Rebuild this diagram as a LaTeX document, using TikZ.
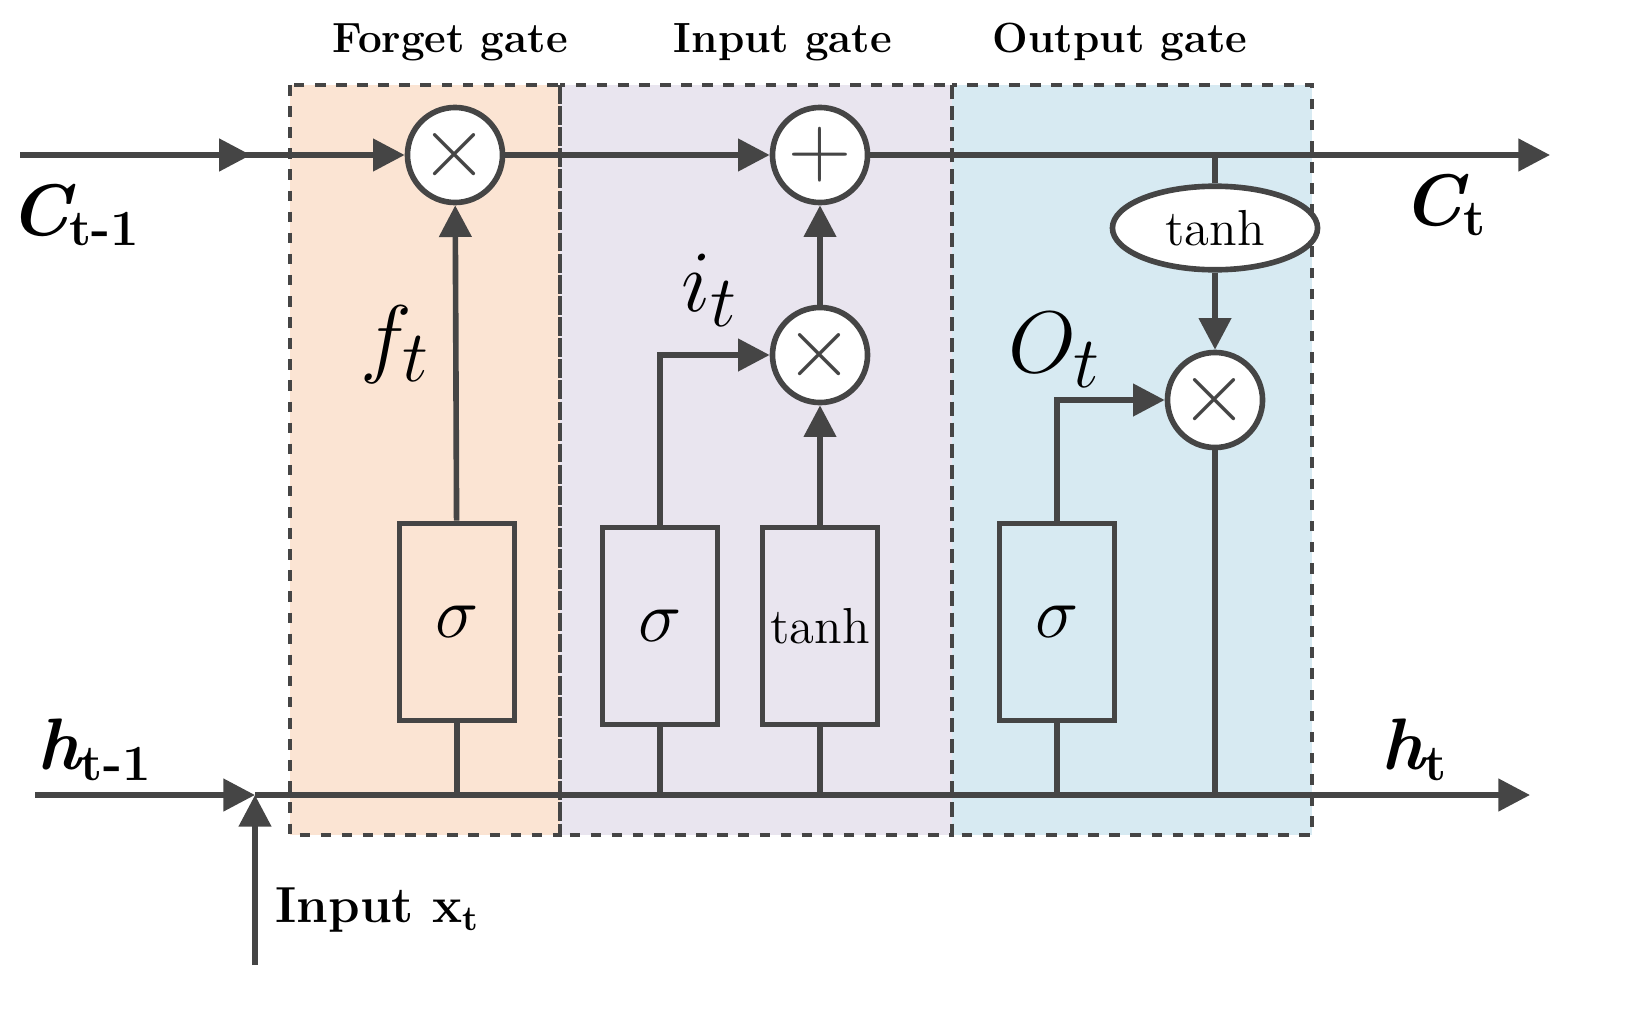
\documentclass[tikz,border=0pt]{standalone}
\usetikzlibrary{arrows.meta,shapes.geometric,decorations.markings}
\definecolor{ln}{HTML}{454545}
\definecolor{fg}{HTML}{FBE4D3}
\definecolor{ig}{HTML}{E9E5EF}
\definecolor{og}{HTML}{D7EAF2}
\begin{document}
\begin{tikzpicture}[x=0.01cm,y=-0.01cm,
  line width=1.6pt, ln,
  arr/.style={-{Triangle[length=9pt,width=9pt]}},
  gate/.style={draw=ln,dashed,line width=1.3pt},
  op/.style={circle,draw=ln,fill=white,minimum size=0.95cm,inner sep=0pt,font=\Huge},
  box/.style={draw=ln,fill=none,minimum width=1.15cm,minimum height=1.97cm,inner sep=0pt,font=\huge,text=black},
  ttl/.style={font=\bfseries\large,text=black},
  lab/.style={font=\huge\bfseries\itshape,text=black},
  midarr/.style={postaction={decorate},decoration={markings,mark=at position #1 with {\arrow{Triangle[length=9pt,width=9pt]}}}}]
\useasboundingbox (0,0) rectangle (1631,1027);
% gate regions
\fill[fg] (290,85) rectangle (560,835);
\fill[ig] (560,85) rectangle (952,835);
\fill[og] (952,85) rectangle (1312,835);
\draw[gate] (290,85) rectangle (560,835);
\draw[gate] (560,85) rectangle (952,835);
\draw[gate] (952,85) rectangle (1312,835);
\node[ttl] at (450,42) {Forget gate};
\node[ttl] at (783,42) {Input gate};
\node[ttl] at (1120,42) {Output gate};
% operators
\node[op] (fx) at (455,155) {$\times$};
\node[op] (pl) at (820,155) {$+$};
\node[op] (ix) at (820,355) {$\times$};
\node[op] (ox) at (1215,400) {$\times$};
\node[draw=ln,fill=white,ellipse,minimum width=2.05cm,minimum height=0.8cm,font=\Large,text=black] (th) at (1215,228) {tanh};
% layer boxes
\node[box] (fs) at (457,622) {$\sigma$};
\node[box] (is) at (660,626) {$\sigma$};
\node[box,font=\Large] (it) at (820,626) {tanh};
\node[box] (os) at (1057,622) {$\sigma$};
% coordinates
\coordinate (cin) at (20,155);
\coordinate (cout) at (1550,155);
\coordinate (cth) at (1215,155);
\coordinate (hin) at (35,795);
\coordinate (hout) at (1530,795);
\coordinate (xin) at (255,965);
\coordinate (xj) at (255,795);
% cell state
\draw[midarr=0.6,arr] (cin) -- (fx);
\draw[arr] (fx) -- (pl);
\draw[arr] (pl.east) -- (cout);
\draw (cth) -- (th);
\draw[arr] (th) -- (ox);
% hidden state
\draw[arr] (hin) -- (xj);
\draw[arr] (xj) -- (hout);
\draw[arr] (xin) -- (xj);
% gates
\draw (fs.south) -- (fs.south |- xj);
\draw (is.south) -- (is.south |- xj);
\draw (it.south) -- (it.south |- xj);
\draw (os.south) -- (os.south |- xj);
\draw (ox.south) -- (ox.south |- xj);
\draw[arr] (fs) -- (fx);
\draw[arr] (is.north) |- (ix);
\draw[arr] (it) -- (ix);
\draw[arr] (ix) -- (pl);
\draw[arr] (os.north) |- (ox);
% labels
\node[lab] at (75,215) {C\textsubscript{\upshape t-1}};
\node[lab] at (1445,205) {C\textsubscript{\upshape t}};
\node[lab] at (95,750) {h\textsubscript{\upshape t-1}};
\node[lab] at (1415,750) {h\textsubscript{\upshape t}};
\node[font=\bfseries\Large,text=black] at (378,910) {Input x\textsubscript{t}};
\node[font=\Huge,text=black] at (395,345) {$f_t$};
\node[font=\Huge,text=black] at (710,290) {$i_t$};
\node[font=\Huge,text=black] at (1055,350) {$O_t$};
\end{tikzpicture}
\end{document}
